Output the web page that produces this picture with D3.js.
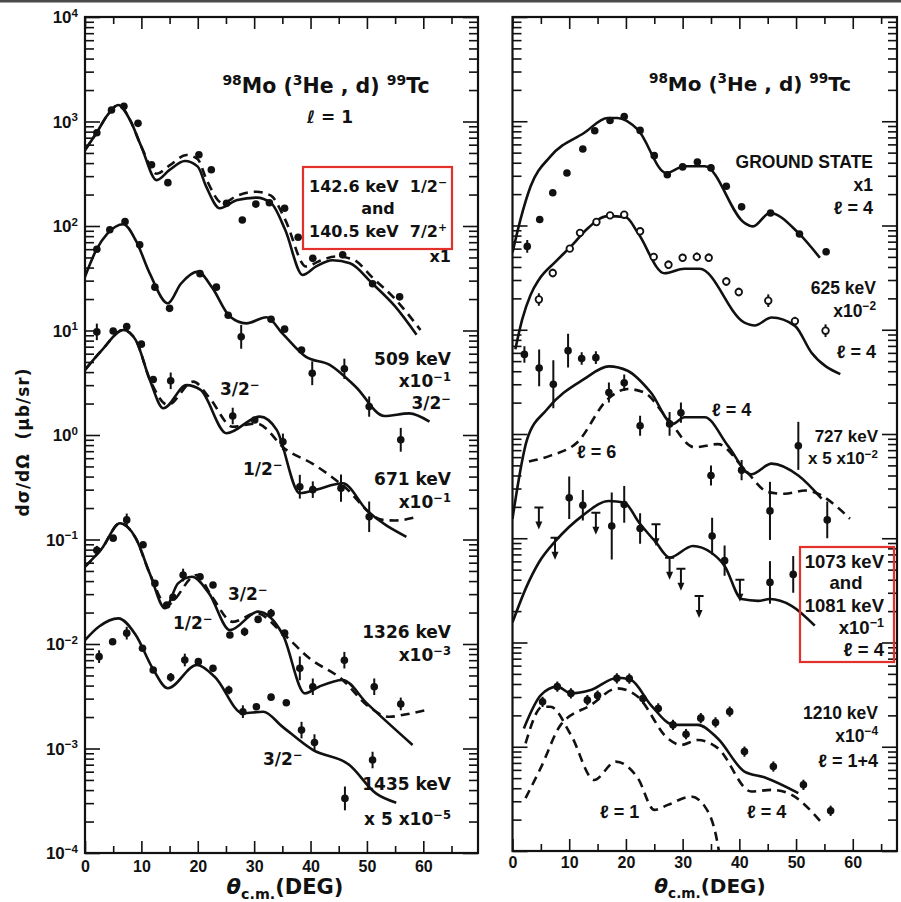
<!DOCTYPE html>
<meta charset="utf-8">
<style>

  body {
    margin: 0;
    background: #fff;
  }

  svg text {
    font-family: "DejaVu Sans", sans-serif;
    font-weight: bold;
    fill: #111;
    white-space: pre;
  }

  .narrow text,
  text.narrow {
    font-family: "Liberation Sans", sans-serif;
  }

  .tick text {
    font-family: "Liberation Sans", sans-serif;
    font-size: 16px;
  }

  .tick line {
    stroke: #111;
    stroke-width: 1.6px;
  }

  .frame {
    fill: none;
    stroke: #111;
    stroke-width: 2.2px;
  }

  .fit {
    fill: none;
    stroke: #111;
    stroke-width: 2.6px;
  }

  .fit--dash {
    stroke-dasharray: 9,6;
  }

  .dot {
    fill: #111;
  }

  .dot--open {
    fill: #fff;
    stroke: #111;
    stroke-width: 1.8px;
  }

  .err,
  .lim {
    fill: none;
    stroke: #111;
    stroke-width: 2px;
  }

  .box {
    fill: none;
    stroke: #e2302a;
    stroke-width: 2.2px;
  }

</style>
<body>
<script src="https://cdn.jsdelivr.net/npm/d3@7"></script>
<script>

  // ---- left panel, l = 1 states (angle in deg, dsigma/dOmega in ub/sr as plotted) ----
  var e142Angles = [2.1, 4.7, 6.9, 9.4, 11.8, 14.7, 20.2, 22.4, 25.1, 27.9, 30.3, 32.7, 35.4, 37.8, 40.4, 45.7, 51.0, 55.8];
  var e142Values = [780, 1290, 1400, 960, 385, 260, 480, 345, 165, 114, 162, 167, 148, 78, 49, 53, 28, 21];
  var e142Solid = [[0,533],[2,771],[4,1153],[5.9,1440],[8,1030],[10,574],[12.7,275],[15,344],[17.7,419],[20,370],[21.5,238],[23.9,148],[27,177],[30.4,187],[33,166],[35.5,92],[38.6,34],[41,41],[43.9,47],[47,44],[51,28],[55,17],[58.8,9.1]];
  var e142Dashed = [[0,533],[2,771],[4,1153],[5.9,1440],[8,1030],[10,574],[12.7,316],[15,380],[18,478],[20,436],[21.5,282],[24.4,166],[27,195],[30.4,213],[33,195],[35.5,115],[39.2,41],[41.5,46],[44.5,51],[47.5,48],[51,32],[55,20],[59.5,10.1]];

  var e509Angles = [2.1, 4.4, 7.1, 9.7, 12.4, 15.0, 20.4, 23.3, 25.4, 27.7, 33.0, 35.4, 38.4, 40.3, 46.0, 50.4, 56.0];
  var e509Values = [60, 92, 110, 66, 26, 16.3, 35, 26, 14, 8.7, 12.8, 10.3, 6.5, 3.9, 4.3, 1.87, 0.90];
  var e509Errs = [1, 1, 1, 1, 1, 1, 1, 1, 1, 1.3, 1, 1, 1, 1.3, 1.25, 1.25, 1.3];
  var e509Solid = [[0,32.7],[2,59],[4,85],[6.8,104],[9,73],[11.5,35],[14.7,18.2],[17,28],[20,36.6],[22.5,26],[25.7,13.6],[28.6,11.7],[32.2,13.4],[35,9.4],[39.2,5.6],[43.4,4.7],[48,2.9],[53.1,1.52],[57.5,1.61],[61.1,1.34]];

  var e671Angles = [2.1, 5.0, 7.4, 10.0, 12.1, 15.2, 26.2, 30.1, 35.1, 38.1, 40.4, 45.4, 50.4];
  var e671Values = [9.7, 9.9, 10.9, 7.4, 3.4, 3.3, 1.52, 1.39, 0.86, 0.32, 0.30, 0.31, 0.165];
  var e671Errs = [1.2, 1, 1, 1, 1, 1.2, 1.2, 1, 1.2, 1.3, 1.2, 1.35, 1.4];
  var e671Solid = [[0,4.2],[3,6.5],[6.8,10.1],[9,8.1],[11.5,3.36],[13.9,1.8],[18,3.0],[20.5,2.7],[25.1,1.04],[31,1.5],[34,1.12],[38.1,0.277],[41,0.30],[45.7,0.345],[50,0.19],[57,0.106]];
  var e671Dashed = [[0,4.2],[3,6.5],[6.8,10.1],[9,8.1],[11.5,3.4],[14.7,1.94],[19.2,3.24],[22,2.3],[26.2,1.2],[30.4,1.29],[35.7,0.72],[40.4,0.53],[45.7,0.33],[52.8,0.154],[55,0.152],[59,0.165]];

  var e1326Angles = [2.1, 5.0, 7.4, 10.3, 12.4, 14.5, 15.6, 17.4, 20.4, 22.7, 25.7, 28.3, 30.7, 33.0, 35.4, 38.1, 40.4, 46.0, 51.3, 56.0];
  var e1326Values = [0.079, 0.103, 0.154, 0.089, 0.038, 0.0236, 0.028, 0.0457, 0.044, 0.0367, 0.0122, 0.0131, 0.0172, 0.0197, 0.0127, 0.00585, 0.0039, 0.0070, 0.0039, 0.00267];
  var e1326Errs = [1.1, 1, 1.15, 1, 1, 1, 1, 1.15, 1, 1, 1, 1.1, 1, 1.1, 1, 1.3, 1.2, 1.2, 1.2, 1.15];
  var e1326Solid = [[0,0.055],[3,0.082],[6.2,0.143],[9,0.103],[11.5,0.047],[14.2,0.022],[16.5,0.038],[19,0.044],[22,0.0305],[25.7,0.0136],[30.7,0.0204],[35.1,0.0122],[39,0.00337],[41.5,0.0039],[45.7,0.00453],[50,0.0027],[58.1,0.00108]];
  var e1326Dashed = [[0,0.055],[3,0.082],[6.2,0.143],[9,0.103],[11.5,0.047],[14.5,0.0236],[19.8,0.0457],[22.5,0.0284],[26.2,0.0163],[30.4,0.0197],[35.1,0.0126],[39.8,0.0073],[45.7,0.00453],[50,0.0026],[54,0.00201],[56.5,0.0021],[60.5,0.00233]];

  var e1435Angles = [2.5, 4.9, 7.4, 10.2, 12.1, 15.2, 17.7, 20.1, 22.7, 25.5, 28.0, 30.4, 33.0, 35.7, 38.4, 40.7, 46.1, 51.0];
  var e1435Values = [0.00757, 0.0105, 0.0127, 0.0091, 0.00563, 0.0048, 0.00703, 0.00678, 0.00585, 0.00363, 0.00225, 0.00251, 0.0031, 0.00274, 0.0015, 0.00114, 0.000333, 0.000776];
  var e1435Errs = [1.15, 1, 1.15, 1, 1, 1.1, 1.15, 1, 1, 1.1, 1.15, 1, 1, 1, 1.2, 1.2, 1.3, 1.2];
  var e1435Solid = [[0,0.0109],[2.5,0.0147],[5.9,0.0176],[9,0.0122],[12,0.00585],[14.7,0.00377],[19.8,0.0063],[23,0.00486],[28,0.00217],[31.6,0.00225],[35,0.00162],[40.4,0.00097],[46.9,0.000695],[51.6,0.000372],[55.2,0.000303]];

  // ---- right panel, l = 4 states ----
  var gsAngles = [2.6, 4.8, 7.1, 9.6, 12.4, 14.5, 17.2, 19.7, 22.5, 25.0, 27.3, 30.0, 32.6, 35.0, 37.7, 40.4, 45.5, 50.6, 55.3];
  var gsValues = [63, 114, 206, 319, 542, 811, 1018, 1112, 817, 468, 307, 365, 407, 357, 238, 151, 132, 83, 56];
  var gsErrs = [1.15, 1, 1, 1, 1, 1, 1, 1, 1, 1, 1, 1, 1, 1, 1, 1, 1, 1, 1];
  var gsSolid = [[0,55],[1.4,114],[3.2,238],[6.7,460],[12.6,771],[16.8,1074],[18.5,1074],[22.1,830],[27.1,319],[30.3,370],[33.9,370],[40.9,106],[42.4,98],[45.4,132],[50.4,85],[54.2,49]];

  var e625Angles = [4.65, 7.1, 10.1, 11.9, 14.8, 17.2, 19.7, 22.5, 24.9, 27.5, 30.0, 32.5, 34.6, 37.7, 39.9, 45.1, 49.8, 55.2];
  var e625Values = [19.5, 35, 60, 85, 108, 125, 127, 88, 50, 42, 49, 50, 49, 29, 23, 19, 12.1, 9.8];
  var e625Errs = [1.15, 1.1, 1, 1, 1, 1, 1, 1, 1, 1.1, 1, 1.1, 1.1, 1.1, 1.1, 1.15, 1.1, 1.15];
  var e625Solid = [[0.5,6.5],[1.7,12.5],[3.2,21.7],[4.65,30.2],[7.6,45],[10.6,65.5],[13,91],[16.8,123],[20,120],[22.1,85],[26.8,34.8],[30.3,38.5],[33,38.5],[40.9,11.7],[42.7,11.0],[45.7,13.1],[49.8,10.9],[52.7,6.05],[57.8,3.75]];

  var e727Angles = [2.1, 4.7, 7.2, 9.8, 12.2, 14.7, 17.0, 19.7, 22.5, 27.7, 29.7, 35.0, 40.4, 45.4, 50.4, 55.5];
  var e727Values = [5.8, 4.3, 3.0, 6.3, 5.3, 5.4, 2.5, 3.1, 1.2, 1.25, 1.6, 0.40, 0.45, 0.183, 0.77, 0.15];
  var e727Errs = [1.2, 1.5, 1.7, 1.45, 1.15, 1.15, 1.25, 1.2, 1.25, 1.3, 1.25, 1.25, 1.25, 1.9, 1.7, 1.5];
  var e727SolidL4 = [[0,0.154],[2.6,0.895],[6.1,1.73],[12.6,3.36],[17,4.45],[20.3,4.04],[24.4,2.5],[28.3,1.25],[30.3,1.45],[33.9,1.45],[38,0.77],[42.1,0.41],[45.7,0.52],[50.4,0.40],[54.5,0.24]];
  var e727DashedL6 = [[2.9,0.545],[6.7,0.62],[11.4,0.83],[16.8,2.16],[20.3,2.7],[23.2,2.5],[27.4,1.39],[32.1,0.745],[36.2,0.80],[40.9,0.46],[45.1,0.277],[48,0.267],[51.6,0.287],[59.5,0.154]];

  var e1073Angles = [10.0, 12.4, 17.5, 19.7, 22.5, 35.2, 37.4, 45.4, 49.5];
  var e1073Values = [0.245, 0.207, 0.131, 0.211, 0.124, 0.105, 0.061, 0.0377, 0.045];
  var e1073Errs = [1.6, 1.4, 2.1, 1.5, 1.4, 1.5, 1.4, 1.6, 1.5];
  var e1073LimitAngles = [4.65, 7.5, 14.7, 25.3, 27.7, 29.7, 32.9, 40.1];
  var e1073LimitValues = [0.197, 0.101, 0.176, 0.136, 0.065, 0.051, 0.028, 0.040];
  var e1073Solid = [[0,0.0156],[2.6,0.0355],[4.65,0.0585],[7.6,0.0942],[12.3,0.164],[17,0.228],[19.7,0.220],[22.3,0.1416],[25.3,0.0912],[27.7,0.0653],[31.8,0.0843],[35,0.0729],[37.4,0.0543],[40.4,0.0261],[43.3,0.0251],[45.4,0.0261],[49.2,0.0225],[53.3,0.0145]];

  var e1210Angles = [5.3, 7.9, 10.3, 13.2, 15.0, 18.4, 20.6, 23.0, 25.7, 28.3, 30.6, 33.2, 35.8, 38.3, 40.9, 46.0, 51.3, 56.1];
  var e1210Values = [0.0027, 0.00377, 0.00325, 0.0028, 0.0031, 0.00453, 0.0045, 0.0029, 0.00233, 0.00162, 0.00132, 0.00188, 0.00171, 0.00217, 0.0009, 0.000646, 0.000431, 0.000243];
  var e1210Errs = e1210Angles.map(function() { return 1.12; });
  var e1210Solid = [[2,0.0015],[5,0.00313],[7.9,0.00377],[10.3,0.00325],[13.8,0.0035],[18.5,0.00459],[20.9,0.00437],[24.4,0.00251],[28.5,0.00162],[32.7,0.00162],[36.2,0.0012],[40.9,0.000578],[44.5,0.000507],[50.4,0.000359]];
  var e1210DashedL4 = [[2.3,0.000321],[5,0.00063],[8.5,0.00162],[13.8,0.00251],[18.5,0.00363],[22.1,0.00302],[27.4,0.0012],[29.7,0.00104],[32.7,0.00116],[36.2,0.00097],[42.1,0.000372],[45.7,0.000386],[48.6,0.000359],[54.8,0.000179]];
  var e1210DashedL1 = [[2.3,0.00108],[5.3,0.00242],[6.7,0.00242],[10.3,0.0013],[14.4,0.00048],[18.2,0.00072],[22.1,0.0005],[25,0.000248],[27.4,0.000277],[31.5,0.000333],[33.9,0.000268],[36.2,0.000115],[37,0.00006]];

  // axis ticks
  var xMajor = [0, 10, 20, 30, 40, 50, 60];
  var xMinor = [5, 15, 25, 35, 45, 55, 65];
  var yExponents = [-4, -3, -2, -1, 0, 1, 2, 3, 4];

  // ---- layout ----
  var svg = d3.select("body").append("svg")
    .attr("width", 901)
    .attr("height", 902);

  svg.append("rect")
    .attr("width", 901).attr("height", 902).attr("fill", "#fff");
  svg.append("rect")
    .attr("width", 901).attr("height", 2.5).attr("fill", "#4a4a4a");

  var yMajor = yExponents.map(function(k) { return Math.pow(10, k); });
  var yMinor = [];
  yExponents.slice(0, -1).forEach(function(k) {
    d3.range(2, 10).forEach(function(m) { yMinor.push(m * Math.pow(10, k)); });
  });

  // text with ^{sup} and _{sub} pieces
  function rich(text, s, fs) {
    var cur = 0;
    s.split(/(\^\{[^}]*\}|_\{[^}]*\})/).forEach(function(p) {
      if (!p) return;
      var off = 0, small = false;
      if (p[0] === "^") { off = -0.38 * fs; small = true; p = p.slice(2, -1); }
      else if (p[0] === "_") { off = 0.24 * fs; small = true; p = p.slice(2, -1); }
      var t = text.append("tspan").text(p).attr("dy", off - cur);
      if (small) t.style("font-size", (0.68 * fs) + "px");
      cur = off;
    });
  }

  function note(g, x, y, anchor, s, fs) {
    var t = g.append("text")
      .attr("x", x).attr("y", y)
      .attr("text-anchor", anchor)
      .style("font-size", fs + "px");
    rich(t, s, fs);
    return t;
  }

  function panel(id, x, y, pad) {
    var g = svg.append("g");
    var x0 = x.range()[0], x1 = x.range()[1];
    var y0 = y.range()[0], y1 = y.range()[1];

    g.append("clipPath").attr("id", id)
      .append("rect")
      .attr("x", x0).attr("y", y1)
      .attr("width", x1 - x0).attr("height", y0 - y1);

    // inward ticks on all four sides
    function ax(axis, t, vals, len, fmt) {
      var a = g.append("g")
        .attr("class", "axis")
        .attr("transform", t)
        .call(axis.tickValues(vals).tickSize(-len).tickPadding(pad).tickFormat(fmt));
      a.select(".domain").remove();
      return a;
    }
    var none = function() { return ""; };
    ax(d3.axisBottom(x), "translate(0," + y0 + ")", xMajor, 12, d3.format("d"))
      .selectAll("text").attr("fill", "#111");
    ax(d3.axisBottom(x), "translate(0," + y0 + ")", xMinor, 7, none);
    ax(d3.axisTop(x), "translate(0," + y1 + ")", xMajor, 12, none);
    ax(d3.axisTop(x), "translate(0," + y1 + ")", xMinor, 7, none);
    ax(d3.axisLeft(y), "translate(" + x0 + ",0)", yMajor, 15, none);
    ax(d3.axisLeft(y), "translate(" + x0 + ",0)", yMinor, 9, none);
    ax(d3.axisRight(y), "translate(" + x1 + ",0)", yMajor, 15, none);
    ax(d3.axisRight(y), "translate(" + x1 + ",0)", yMinor, 9, none);

    g.append("rect")
      .attr("class", "frame")
      .attr("x", x0).attr("y", y1)
      .attr("width", x1 - x0).attr("height", y0 - y1);

    g.plot = g.append("g").attr("clip-path", "url(#" + id + ")");
    g.x = x;
    g.y = y;
    return g;
  }

  function fit(p, pts, dashed) {
    var line = d3.line()
      .x(function(d) { return p.x(d[0]); })
      .y(function(d) { return p.y(d[1]); })
      .curve(d3.curveMonotoneX);
    p.plot.append("path")
      .datum(pts)
      .attr("class", dashed ? "fit fit--dash" : "fit")
      .attr("d", line);
  }

  function points(p, angles, values, errs, open) {
    var data = angles.map(function(a, i) {
      return {a: a, v: values[i], e: errs ? errs[i] : 1};
    });
    p.plot.selectAll(null)
      .data(data.filter(function(d) { return d.e > 1; }))
      .enter().append("line")
      .attr("class", "err")
      .attr("x1", function(d) { return p.x(d.a); })
      .attr("x2", function(d) { return p.x(d.a); })
      .attr("y1", function(d) { return p.y(d.v * d.e); })
      .attr("y2", function(d) { return p.y(d.v / d.e); });
    p.plot.selectAll(null)
      .data(data)
      .enter().append("circle")
      .attr("class", open ? "dot dot--open" : "dot")
      .attr("cx", function(d) { return p.x(d.a); })
      .attr("cy", function(d) { return p.y(d.v); })
      .attr("r", open ? 3.3 : 3.8);
  }

  // upper limits: bar, stem and arrow head
  function limits(p, angles, values) {
    var data = angles.map(function(a, i) { return {px: p.x(a), py: p.y(values[i])}; });
    p.plot.selectAll(null)
      .data(data)
      .enter().append("path")
      .attr("class", "lim")
      .attr("d", function(d) {
        return "M" + (d.px - 4.5) + "," + d.py + "H" + (d.px + 4.5) +
          "M" + d.px + "," + d.py + "V" + (d.py + 16);
      });
    p.plot.selectAll(null)
      .data(data)
      .enter().append("path")
      .attr("fill", "#111")
      .attr("d", function(d) {
        return "M" + (d.px - 3.5) + "," + (d.py + 14) + "L" + d.px + "," + (d.py + 22) +
          "L" + (d.px + 3.5) + "," + (d.py + 14) + "Z";
      });
  }

  // ---- left panel ----
  var left = panel("clipL",
    d3.scaleLinear().domain([0, 69.7]).range([85, 478]),
    d3.scaleLog().domain([1e-4, 1e4]).range([853, 17]), 8);

  fit(left, e142Dashed, true);
  fit(left, e142Solid);
  points(left, e142Angles, e142Values);
  fit(left, e509Solid);
  points(left, e509Angles, e509Values, e509Errs);
  fit(left, e671Dashed, true);
  fit(left, e671Solid);
  points(left, e671Angles, e671Values, e671Errs);
  fit(left, e1326Dashed, true);
  fit(left, e1326Solid);
  points(left, e1326Angles, e1326Values, e1326Errs);
  fit(left, e1435Solid);
  points(left, e1435Angles, e1435Values, e1435Errs);

  // decade labels on the left axis
  yExponents.forEach(function(k) {
    var t = left.append("text")
      .attr("class", "narrow")
      .attr("x", 78)
      .attr("y", left.y(Math.pow(10, k)) + 6)
      .attr("text-anchor", "end")
      .style("font-size", "17px");
    rich(t, "10^{" + (k < 0 ? "\u2212" + (-k) : k) + "}", 17);
  });

  [
    [326, 93, "middle", "^{98}Mo (^{3}He , d) ^{99}Tc", 20.5],
    [330, 123, "middle", "\u2113 = 1", 17],
    [378, 192, "middle", "142.6 keV  1/2^{\u2212}", 16],
    [378, 214, "middle", "and", 16],
    [378, 237, "middle", "140.5 keV  7/2^{+}", 16],
    [451, 262, "end", "x1", 16],
    [451, 365, "end", "509 keV", 17],
    [451, 387, "end", "x10^{\u22121}", 17],
    [451, 409, "end", "3/2^{\u2212}", 17],
    [220, 395, "start", "3/2^{\u2212}", 17],
    [243, 475, "start", "1/2^{\u2212}", 17],
    [451, 485, "end", "671 keV", 17],
    [451, 508, "end", "x10^{\u22121}", 17],
    [228, 600, "start", "3/2^{\u2212}", 17],
    [173, 629, "start", "1/2^{\u2212}", 17],
    [451, 638, "end", "1326 keV", 17],
    [451, 661, "end", "x10^{\u22123}", 17],
    [263, 765, "start", "3/2^{\u2212}", 17],
    [451, 790, "end", "1435 keV", 17],
    [451, 825, "end", "x 5 x10^{\u22125}", 17]
  ].forEach(function(n) { note(left, n[0], n[1], n[2], n[3], n[4]); });

  left.append("rect").attr("class", "box")
    .attr("x", 303).attr("y", 167).attr("width", 149).attr("height", 82);

  note(left, 285, 894, "middle", "\u03b8_{c.m.}(DEG)", 21)
    .select("tspan").style("font-style", "italic");

  left.append("text")
    .attr("transform", "translate(29,442) rotate(-90)")
    .attr("text-anchor", "middle")
    .style("font-size", "17px")
    .style("letter-spacing", "1px")
    .text("d\u03c3/d\u03a9  (\u03bcb/sr)");

  // ---- right panel ----
  var right = panel("clipR",
    d3.scaleLinear().domain([0, 67.8]).range([512.5, 897]),
    d3.scaleLog().domain([1e-4, 1e4]).range([851, 17]), 6);

  fit(right, gsSolid);
  points(right, gsAngles, gsValues, gsErrs);
  fit(right, e625Solid);
  points(right, e625Angles, e625Values, e625Errs, true);
  fit(right, e727DashedL6, true);
  fit(right, e727SolidL4);
  points(right, e727Angles, e727Values, e727Errs);
  fit(right, e1073Solid);
  points(right, e1073Angles, e1073Values, e1073Errs);
  limits(right, e1073LimitAngles, e1073LimitValues);
  fit(right, e1210DashedL1, true);
  fit(right, e1210DashedL4, true);
  fit(right, e1210Solid);
  points(right, e1210Angles, e1210Values, e1210Errs);

  note(right, 750, 91, "middle", "^{98}Mo (^{3}He , d) ^{99}Tc", 20);

  var rightNotes = right.append("g").attr("class", "narrow");
  [
    [873, 168, "end", "GROUND STATE", 17.5],
    [873, 191, "end", "x1", 17.5],
    [873, 214, "end", "\u2113 = 4", 18],
    [876, 294, "end", "625 keV", 17.5],
    [876, 317, "end", "x10^{\u22122}", 17.5],
    [876, 358, "end", "\u2113 = 4", 18],
    [712, 416, "start", "\u2113 = 4", 18],
    [577, 458, "start", "\u2113 = 6", 18],
    [878, 442, "end", "727 keV", 17],
    [878, 464, "end", "x 5 x10^{\u22122}", 17],
    [884, 568, "end", "1073 keV", 18.5],
    [846, 589, "middle", "and", 18.5],
    [884, 612, "end", "1081 keV", 18.5],
    [884, 634, "end", "x10^{\u22121}", 18.5],
    [884, 656, "end", "\u2113 = 4", 18.5],
    [878, 719, "end", "1210 keV", 17.5],
    [878, 742, "end", "x10^{\u22124}", 17.5],
    [878, 767, "end", "\u2113 = 1+4", 18],
    [600, 818, "start", "\u2113 = 1", 18],
    [747, 818, "start", "\u2113 = 4", 18]
  ].forEach(function(n) { note(rightNotes, n[0], n[1], n[2], n[3], n[4]); });

  right.append("rect").attr("class", "box")
    .attr("x", 800).attr("y", 547).attr("width", 94).attr("height", 115);

  note(right, 710, 893, "middle", "\u03b8_{c.m.}(DEG)", 20)
    .select("tspan").style("font-style", "italic");

</script>
